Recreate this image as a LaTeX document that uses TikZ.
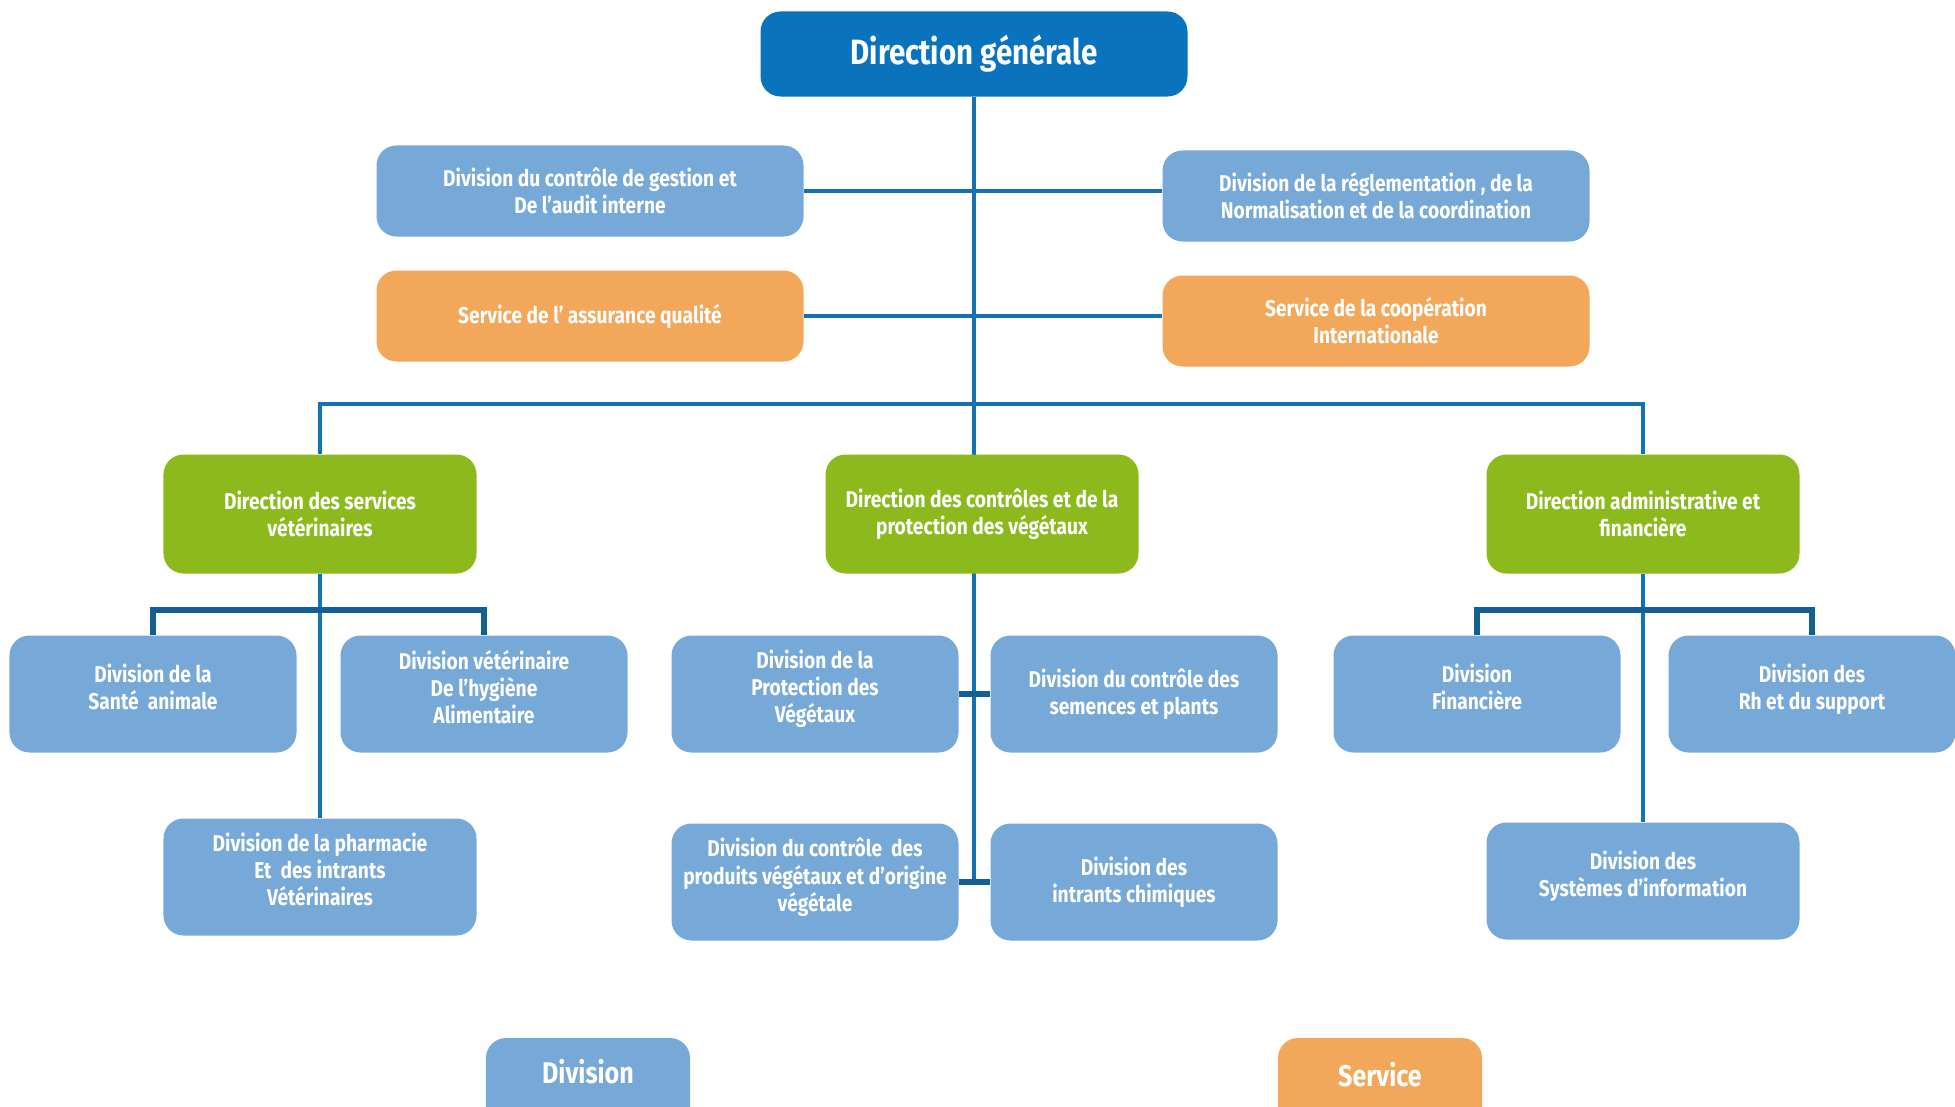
\documentclass[tikz,border=0pt]{standalone}
\usepackage{fontspec}
\setmainfont{Fira Sans}[FakeStretch=0.84]
\usetikzlibrary{positioning,calc,backgrounds}
\definecolor{dgblue}{HTML}{0A73BE}
\definecolor{divblue}{HTML}{76A8D8}
\definecolor{servorange}{HTML}{F3A75B}
\definecolor{dirgreen}{HTML}{8CBA1D}
\definecolor{linkblue}{HTML}{1372B3}
\definecolor{tickblue}{HTML}{115F94}
\tikzset{%
  % Specifications for style of boxes:
       unit/.style = {rectangle, rounded corners=4mm, text=white,
                      align=center, font=\fontsize{13}{15.4}\selectfont\bfseries},
     dgbox/.style = {unit, fill=dgblue, minimum width=85.4mm, minimum height=17mm,
                      font=\fontsize{20}{24}\selectfont\bfseries},
     topdiv/.style = {unit, fill=divblue, minimum width=85.4mm, minimum height=18.2mm},
    topserv/.style = {unit, fill=servorange, minimum width=85.4mm, minimum height=18.2mm},
     dirbox/.style = {unit, fill=dirgreen, minimum width=62.6mm, minimum height=23.8mm},
     divbox/.style = {unit, fill=divblue, minimum width=57.4mm, minimum height=23.4mm},
    widediv/.style = {divbox, minimum width=62.6mm},
     legend/.style = {unit, minimum width=40.8mm, minimum height=20mm,
                      font=\fontsize{17}{20}\selectfont\bfseries},
  % connectors
       link/.style = {draw=linkblue, line width=2.4pt},
       tick/.style = {draw=tickblue, line width=3pt}
}

\begin{document}
\begin{tikzpicture}[x=0.2mm, y=-0.2mm]
  \useasboundingbox (0,0) rectangle (1955,1107);

  \node (dg)      [dgbox]   at (974,54)   {Direction générale};

  \node (gestion) [topdiv]  at (590,191)  {Division du contrôle de gestion et\\ De l’audit interne};
  \node (regl)    [topdiv]  at (1376,196) {Division de la réglementation , de la\\ Normalisation et de la coordination};
  \node (qualite) [topserv] at (590,316)  {Service de l’ assurance qualité};
  \node (coop)    [topserv] at (1376,321) {Service de la coopération\\ Internationale};

  \coordinate (bar) at (0,404);

  \node (dsv)  [dirbox] at (320,514)  {Direction des services\\ vétérinaires};
  \node (dcpv) [dirbox] at (982,514)  {Direction des contrôles et de la\\ protection des végétaux};
  \node (daf)  [dirbox] at (1643,514) {Direction administrative et\\ financière};

  \coordinate (subbar) at (0,610);

  \node (sante)    [divbox] at (153,694)  {Division de la\\ Santé~ animale\\[-7pt]};
  \node (hygiene)  [divbox] at (484,694)  {Division vétérinaire\\ De l’hygiène\\ Alimentaire\\[-7pt]};
  \node (protveg)  [divbox] at (815,694)  {Division de la\\ Protection des\\ Végétaux\\[-7pt]};
  \node (semences) [divbox] at (1134,694) {Division du contrôle des\\ semences et plants};
  \node (financ)   [divbox] at (1477,694) {Division\\ Financière\\[-7pt]};
  \node (rh)       [divbox] at (1812,694) {Division des\\ Rh et du support\\[-7pt]};

  \node (pharma)   [widediv] at (320,877)  {Division de la pharmacie\\ Et~ des intrants\\ Vétérinaires\\[-7pt]};
  \node (produits) [divbox]  at (815,882)  {Division du contrôle~ des\\ produits végétaux et d’origine\\ végétale\\[-7pt]};
  \node (intrants) [divbox]  at (1134,882) {Division des\\ intrants chimiques};
  \node (sysinfo)  [widediv] at (1643,881) {Division des\\ Systèmes d’information\\[-7pt]};

  \node (leg div)  [legend, fill=divblue]    at (588,1088)  {Division\\[-1pt]};
  \node (leg serv) [legend, fill=servorange] at (1380,1088) {Service\\[-4pt]};

  \begin{scope}[on background layer]
    \draw[link] (dg.south) -- (dg.south |- produits.east);
    \draw[link] (gestion.east) -- (gestion.east -| regl.west);
    \draw[link] (qualite.east) -- (qualite.east -| coop.west);
    \draw[link] (dsv.north) -- (dsv.north |- bar) -- (daf.north |- bar) -- (daf.north);

    \draw[link] (dsv.south) -- (pharma.north);
    \draw[tick] (sante.north) -- (sante.north |- subbar) -- (hygiene.north |- subbar) -- (hygiene.north);

    \draw[tick] (protveg.east) -- (semences.west);
    \draw[tick] (produits.east) -- (intrants.west);

    \draw[link] (daf.south) -- (sysinfo.north);
    \draw[tick] (financ.north) -- (financ.north |- subbar) -- (rh.north |- subbar) -- (rh.north);
  \end{scope}
\end{tikzpicture}
\end{document}
